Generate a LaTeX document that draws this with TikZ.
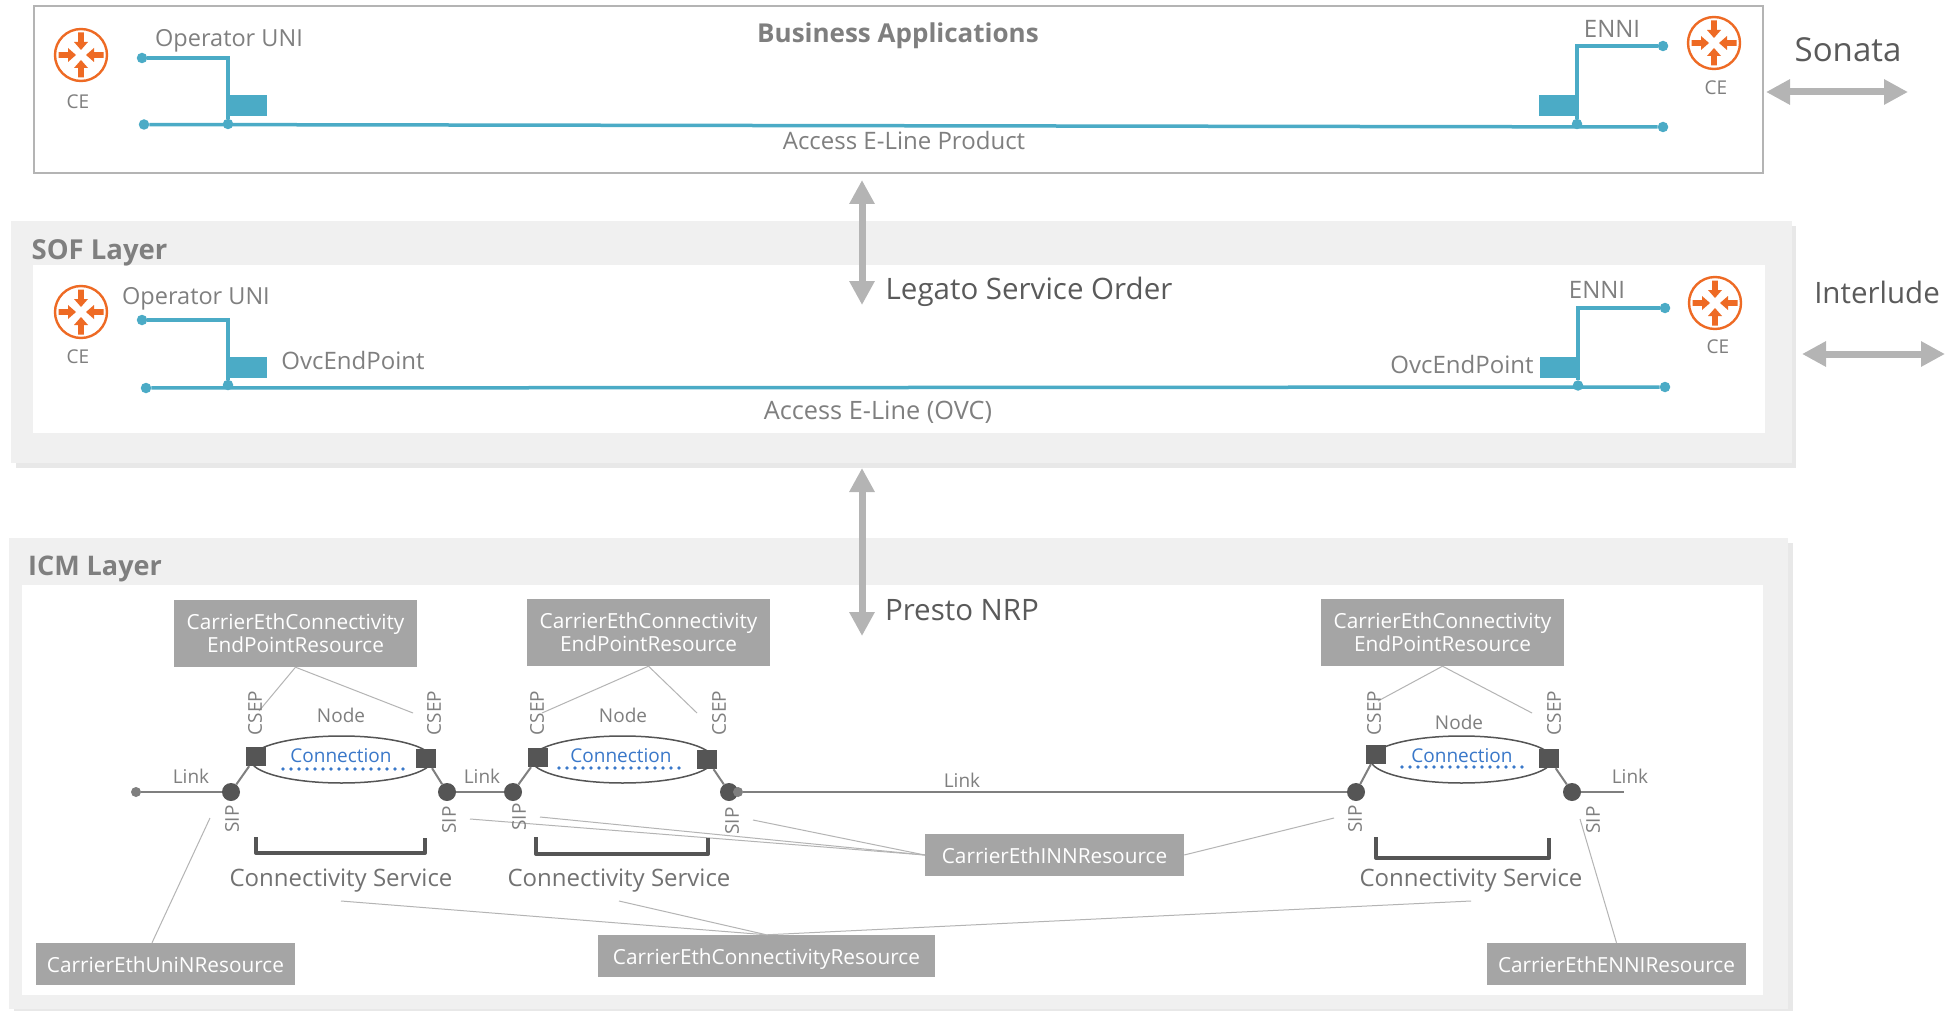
\documentclass[tikz,border=0pt]{standalone}
\usepackage{fontspec}
\setmainfont{Open Sans}
\usetikzlibrary{arrows.meta,shapes.geometric}
\definecolor{layerbg}{HTML}{F0F0F0}
\definecolor{layershade}{HTML}{E8E8E8}
\definecolor{framegray}{HTML}{B4B4B4}
\definecolor{resgray}{HTML}{A5A5A5}
\definecolor{darkgray}{HTML}{555555}
\definecolor{textgray}{HTML}{7F7F7F}
\definecolor{bigtext}{HTML}{5A5A5A}
\definecolor{linkblue}{HTML}{4BABC6}
\definecolor{connblue}{HTML}{3A78C9}
\definecolor{ceorange}{HTML}{EE6A24}
\tikzset{
	lab/.style={inner sep=0pt,text=textgray,text height=17pt,text depth=0pt,font=\fontsize{24}{28}\selectfont},
	labsm/.style={inner sep=0pt,text=textgray,text height=13.7pt,text depth=0pt,font=\fontsize{19}{22}\selectfont},
	labsv/.style={labsm,rotate=90},
	labbold/.style={inner sep=0pt,text=textgray,text height=19pt,text depth=0pt,font=\fontsize{26}{30}\selectfont\bfseries},
	labbig/.style={inner sep=0pt,text=bigtext,text height=21pt,text depth=0pt,font=\fontsize{29.5}{34}\selectfont},
	labsvc/.style={lab,text=textgray!90!black},
	labconn/.style={labsm,text=connblue},
	resbox/.style={fill=resgray,text=white,inner sep=0pt,align=center,font=\fontsize{20.8}{23}\selectfont},
	resline/.style={resbox,text height=17.5pt,text depth=0pt},
	bluedot/.style={circle,fill=linkblue,inner sep=0pt,minimum size=10.5pt},
	bluewire/.style={draw=linkblue,line width=3.5pt},
	blueport/.style={fill=linkblue,inner sep=0pt,minimum width=39pt,minimum height=21pt},
	sipdot/.style={circle,fill=darkgray,inner sep=0pt,minimum size=18pt},
	csepbox/.style={fill=darkgray,inner sep=0pt,minimum width=20pt,minimum height=19pt},
	freedot/.style={circle,fill=textgray,inner sep=0pt,minimum size=10pt},
	linkwire/.style={draw=textgray,line width=2pt},
	nodering/.style={ellipse,draw=darkgray,line width=1.5pt,inner sep=0pt,minimum height=47pt},
	conndots/.style={draw=connblue,line width=3.8pt,line cap=round,dash pattern=on 0pt off 8pt},
	bracket/.style={draw=darkgray,line width=4pt,line join=round},
	thinline/.style={draw=framegray,line width=1pt},
	bigarrow/.style={draw=framegray,line width=7pt,{Triangle[length=24pt,width=24pt]}-{Triangle[length=24pt,width=24pt]}},
	cepic/.pic={
		\draw[ceorange,line width=2.4pt] (0,0) circle (26pt);
		\foreach \a in {0,90,180,270}
			\fill[ceorange,rotate=\a] (22.5,-2.8)--(13,-2.8)--(13,-7)--(5,0)--(13,7)--(13,2.8)--(22.5,2.8)--cycle;
	}
}
\begin{document}
\begin{tikzpicture}[x=1pt,y=-1pt]
	\useasboundingbox (0,0) rectangle (1954,1011);
	% layers
	\draw[framegray,line width=2pt,fill=white] (34,6) rectangle (1763,173);
	\fill[layershade] (16,226) rectangle (1796,468);
	\fill[layerbg] (11,221) rectangle (1792,463);
	\fill[white] (33,265) rectangle (1765,433);
	\fill[layershade] (14,543) rectangle (1793,1011);
	\fill[layerbg] (9,538) rectangle (1788,1009);
	\fill[white] (22,585) rectangle (1763,995);
	\node[labbold] (bizapp) at (898,33) {Business Applications};
	\node[labbold,font=\fontsize{27.5}{30}\selectfont\bfseries] (soflayer) at (99.5,250) {SOF Layer};
	\node[labbold,font=\fontsize{27}{30}\selectfont\bfseries] (icmlayer) at (95,566) {ICM Layer};
	% business applications
	\pic at (81,55) {cepic};
	\pic at (1714,43) {cepic};
	\node[labsm] (cea) at (78,102) {CE};
	\node[labsm] (ceb) at (1716,88) {CE};
	\node[lab,font=\fontsize{23.5}{28}\selectfont] (opuni) at (229,38) {Operator UNI};
	\node[lab] (enni) at (1612,29) {ENNI};
	\node[bluedot] (bua) at (142,58) {};
	\node[bluedot] (bub) at (144,124.5) {};
	\node[bluedot] (buc) at (228,124) {};
	\node[bluedot] (bea) at (1663,46) {};
	\node[bluedot] (beb) at (1663,127) {};
	\node[bluedot] (bec) at (1577,124) {};
	\node[blueport] (bpa) at (247.5,105.5) {};
	\node[blueport] (bpb) at (1558.5,105.5) {};
	\draw[bluewire] (bua) -| (buc);
	\draw[bluewire] (bea) -| (bec);
	\draw[bluewire] (bub) -- (beb);
	\node[lab] (accprod) at (904,141) {Access E-Line Product};
	\coordinate (sonl) at (1766,92);
	\coordinate (sonr) at (1908,92);
	\draw[bigarrow] (sonl) -- (sonr);
	\node[labbig,font=\fontsize{33}{38}\selectfont] (sonata) at (1848,51.5) {Sonata};
	% sof layer
	\pic at (81,312) {cepic};
	\pic at (1715,303) {cepic};
	\node[labsm] (cec) at (78,357) {CE};
	\node[labsm] (ced) at (1718,347) {CE};
	\node[lab,font=\fontsize{23.5}{28}\selectfont] (opunib) at (196,296) {Operator UNI};
	\node[lab] (ennib) at (1597,290) {ENNI};
	\node[bluedot] (sua) at (142,320) {};
	\node[bluedot] (sub) at (146,388) {};
	\node[bluedot] (suc) at (228,385) {};
	\node[bluedot] (sea) at (1665,308) {};
	\node[bluedot] (seb) at (1665,387) {};
	\node[bluedot] (sec) at (1578,385.5) {};
	\node[blueport] (spa) at (247.5,367.5) {};
	\node[blueport] (spb) at (1559.5,367.5) {};
	\draw[bluewire] (sua) -| (suc);
	\draw[bluewire] (sea) -| (sec);
	\draw[bluewire] (sub) -- (seb);
	\node[lab] (ovca) at (353,361) {OvcEndPoint};
	\node[lab] (ovcb) at (1462,365) {OvcEndPoint};
	\node[lab,font=\fontsize{25.3}{28}\selectfont] (accovc) at (878,411) {Access E-Line (OVC)};
	\coordinate (intl) at (1802,354);
	\coordinate (intr) at (1945,354);
	\draw[bigarrow] (intl) -- (intr);
	\node[labbig] (interlude) at (1877,293) {Interlude};
	% vertical interfaces
	\coordinate (lega) at (862,180);
	\coordinate (legb) at (862,305);
	\coordinate (prea) at (862,468);
	\coordinate (preb) at (862,636);
	\draw[bigarrow] (lega) -- (legb);
	\draw[bigarrow] (prea) -- (preb);
	\node[labbig] (legato) at (1029,289) {Legato Service Order};
	\node[labbig] (presto) at (962,610) {Presto NRP};
	% icm resources
	\node[resbox,minimum width=243pt,minimum height=67pt] (epa) at (295.5,633.5) {CarrierEthConnectivity\\EndPointResource};
	\node[resbox,minimum width=243pt,minimum height=67pt] (epb) at (648.5,632.5) {CarrierEthConnectivity\\EndPointResource};
	\node[resbox,minimum width=243pt,minimum height=67pt] (epc) at (1442.5,632.5) {CarrierEthConnectivity\\EndPointResource};
	\node[resline,minimum width=259pt,minimum height=42pt] (unires) at (165.5,964) {CarrierEthUniNResource};
	\node[resline,minimum width=337pt,minimum height=42pt] (connres) at (766.5,956) {CarrierEthConnectivityResource};
	\node[resline,minimum width=259pt,minimum height=42pt] (inires) at (1054.5,855) {CarrierEthINNResource};
	\node[resline,minimum width=259pt,minimum height=42pt] (ennires) at (1616.5,964) {CarrierEthENNIResource};
	% thin leader lines
	\coordinate (csa) at (259,711);
	\coordinate (csb) at (413,713);
	\coordinate (csc) at (542,713);
	\coordinate (csd) at (697,713);
	\coordinate (cse) at (1378,701);
	\coordinate (csf) at (1532,713);
	\coordinate (sfa) at (470,819);
	\coordinate (sfb) at (540,817);
	\coordinate (sfc) at (753,820);
	\coordinate (sfd) at (1334,818);
	\coordinate (sfe) at (210,818);
	\coordinate (sff) at (1580,819);
	\coordinate (cva) at (341,901);
	\coordinate (cvb) at (619,901);
	\coordinate (cvc) at (1471,901);
	\draw[thinline] (epa.south) -- (csa);
	\draw[thinline] (epa.south) -- (csb);
	\draw[thinline] (epb.south) -- (csc);
	\draw[thinline] (epb.south) -- (csd);
	\draw[thinline] (epc.south) -- (cse);
	\draw[thinline] (epc.south) -- (csf);
	\draw[thinline] (inires.west) -- (sfa);
	\draw[thinline] (inires.west) -- (sfb);
	\draw[thinline] (inires.west) -- (sfc);
	\draw[thinline] (inires.east) -- (sfd);
	\draw[thinline] (unires.north -| 152,0) -- (sfe);
	\draw[thinline] (ennires.north) -- (sff);
	\draw[thinline] (connres.north) -- (cva);
	\draw[thinline] (connres.north) -- (cvb);
	\draw[thinline] (connres.north) -- (cvc);
	% icm nodes
	\node[nodering,minimum width=182pt] (noa) at (341.5,759.5) {};
	\node[nodering,minimum width=182pt] (nob) at (622.5,759.5) {};
	\node[nodering,minimum width=182pt] (noc) at (1461.5,759.5) {};
	\node[csepbox] (qa) at (256,756.5) {};
	\node[csepbox] (qb) at (426,758.5) {};
	\node[csepbox] (qc) at (538,757.5) {};
	\node[csepbox] (qd) at (707,759.5) {};
	\node[csepbox] (qe) at (1376,754.5) {};
	\node[csepbox] (qf) at (1549,758.5) {};
	\node[sipdot] (sa) at (231,792) {};
	\node[sipdot] (sb) at (447,792) {};
	\node[sipdot] (sc) at (513,792) {};
	\node[sipdot] (sd) at (729,792) {};
	\node[sipdot] (se) at (1356,792) {};
	\node[sipdot] (sg) at (1572,792) {};
	\node[freedot] (fa) at (136,792) {};
	\node[freedot] (fb) at (738,792) {};
	\coordinate (lkend) at (1624,792);
	\draw[linkwire] (fa) -- (sa);
	\draw[linkwire] (sb) -- (sc);
	\draw[linkwire] (fb) -- (se);
	\draw[linkwire] (sg) -- (lkend);
	\draw[linkwire] (sa) -- (qa);
	\draw[linkwire] (sb) -- (qb);
	\draw[linkwire] (sc) -- (qc);
	\draw[linkwire] (sd) -- (qd);
	\draw[linkwire] (se) -- (qe);
	\draw[linkwire] (sg) -- (qf);
	% labels
	\node[labsm] (lka) at (191,777) {Link};
	\node[labsm] (lkb) at (482,777) {Link};
	\node[labsm] (lkc) at (962,781) {Link};
	\node[labsm] (lkd) at (1630,777) {Link};
	\node[labsm] (nla) at (341,716) {Node};
	\node[labsm] (nlb) at (623,716) {Node};
	\node[labsm] (nlc) at (1459,723) {Node};
	\node[labconn] (cna) at (341,756) {Connection};
	\node[labconn] (cnb) at (621,756) {Connection};
	\node[labconn] (cnc) at (1462,756) {Connection};
	\coordinate (dta) at (283,769);
	\coordinate (dtb) at (404,769);
	\coordinate (dtc) at (559,768);
	\coordinate (dtd) at (681,768);
	\coordinate (dte) at (1402,767);
	\coordinate (dtf) at (1524,767);
	\draw[conndots] (dta) -- (dtb);
	\draw[conndots] (dtc) -- (dtd);
	\draw[conndots] (dte) -- (dtf);
	\node[labsv] (cpa) at (255,713) {CSEP};
	\node[labsv] (cpb) at (434,713) {CSEP};
	\node[labsv] (cpc) at (537,713) {CSEP};
	\node[labsv] (cpd) at (719,713) {CSEP};
	\node[labsv] (cpe) at (1374,713) {CSEP};
	\node[labsv] (cpf) at (1554,713) {CSEP};
	\node[labsv] (ipa) at (232,819) {SIP};
	\node[labsv] (ipb) at (449,820) {SIP};
	\node[labsv] (ipc) at (519,817) {SIP};
	\node[labsv] (ipd) at (732,821) {SIP};
	\node[labsv] (ipe) at (1355,819) {SIP};
	\node[labsv] (ipf) at (1593,820) {SIP};
	\draw[bracket] (256,837) |- (425,853) -- (425,838);
	\draw[bracket] (536,837) |- (708,854) -- (708,838);
	\draw[bracket] (1376,837) |- (1549,858) -- (1549,838);
	\node[labsvc] (sva) at (341,878) {Connectivity Service};
	\node[labsvc] (svb) at (619,878) {Connectivity Service};
	\node[labsvc] (svc) at (1471,878) {Connectivity Service};
\end{tikzpicture}
\end{document}
